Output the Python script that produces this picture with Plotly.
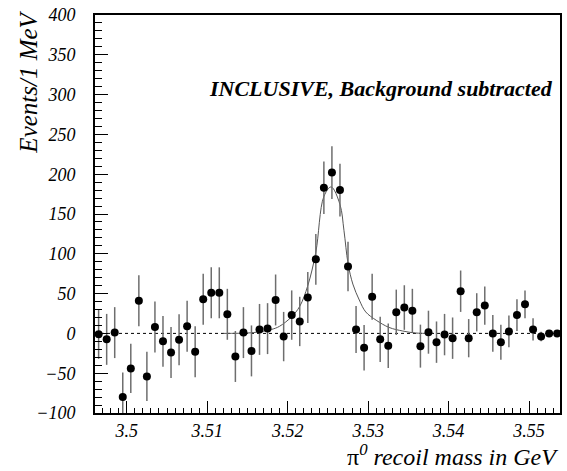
import plotly.graph_objects as go

# bin centres (GeV)
mass = [3.4965, 3.4975, 3.4985, 3.4995, 3.5005, 3.5015, 3.5025, 3.5035, 3.5045, 3.5055,
        3.5065, 3.5075, 3.5085, 3.5095, 3.5105, 3.5115, 3.5125, 3.5135, 3.5145, 3.5155,
        3.5165, 3.5175, 3.5185, 3.5195, 3.5205, 3.5215, 3.5225, 3.5235, 3.5245, 3.5255,
        3.5265, 3.5275, 3.5285, 3.5295, 3.5305, 3.5315, 3.5325, 3.5335, 3.5345, 3.5355,
        3.5365, 3.5375, 3.5385, 3.5395, 3.5405, 3.5415, 3.5425, 3.5435, 3.5445, 3.5455,
        3.5465, 3.5475, 3.5485, 3.5495, 3.5505, 3.5515, 3.5525, 3.5535]

events = [-1, -7.5, 1, -80, -44, 41, -54, 8, -10, -24,
          -8, 9, -23, 43, 51, 51, 24, -29, 1, -22,
          5, 6, 42, -4, 23, 15, 45, 93, 183, 202,
          180, 84, 5, -18, 46, -7.5, -15.5, 26.5, 32.5, 28.5,
          -16, 1.5, -11, -1.5, -6, 53, -6, 26.5, 35, 0,
          -11, 2.5, 23, 36.5, 5, -4, 0, 0]

errors = [31, 32, 32, 31, 31, 32, 31, 32, 32, 32,
          32, 32, 32, 32, 32, 32, 32, 32, 32, 32,
          32, 32, 32, 31, 31, 31, 32, 32, 33, 33,
          33, 31, 29.5, 28.5, 29, 28.5, 28, 28.5, 28, 27.5,
          27, 27, 26, 26, 26, 26, 24, 24, 24, 23,
          22, 20, 20, 17.5, 14, 6, 0, 0]

# fitted curve
fit_x = [3.5120, 3.5150, 3.5165, 3.5180, 3.5190, 3.5205, 3.5215, 3.5225, 3.5235, 3.5245,
         3.5254, 3.5265, 3.5270, 3.5275, 3.5281, 3.5289, 3.5297, 3.5310, 3.5326, 3.5343,
         3.5359, 3.5380]
fit_y = [0, 0.5, 2, 5, 9, 21, 34, 60, 102, 172,
         184, 162, 129, 88, 62, 42, 27, 16.6, 7.5, 3,
         0.5, 0]

x_ticks = [3.50, 3.51, 3.52, 3.53, 3.54, 3.55]
x_labels = ["3.5", "3.51", "3.52", "3.53", "3.54", "3.55"]
y_ticks = [-100, -50, 0, 50, 100, 150, 200, 250, 300, 350, 400]

SERIF = "Liberation Serif, Times New Roman, serif"

fig = go.Figure()
fig.add_trace(go.Scatter(
    x=fit_x, y=fit_y, mode="lines", line=dict(color="#555555", width=1, shape="spline"),
    hoverinfo="skip", showlegend=False))
fig.add_trace(go.Scatter(
    x=mass, y=events, mode="markers",
    marker=dict(color="black", size=8),
    error_y=dict(type="data", array=errors, visible=True, color="#6e6e6e", thickness=1.5, width=0),
    showlegend=False))

fig.add_shape(type="line", xref="paper", yref="y", x0=0, x1=1, y0=0, y1=0,
              line=dict(color="black", width=1, dash="dot"), layer="below")

tickfont = dict(family=SERIF, size=18, color="black", style="italic")
fig.update_xaxes(range=[3.49605, 3.55385], tickvals=x_ticks, ticktext=x_labels,
                 ticks="inside", ticklen=12, tickwidth=1, tickcolor="black",
                 minor=dict(dtick=0.001, tick0=3.5, ticks="inside", ticklen=5, tickwidth=1, tickcolor="black"),
                 showline=True, linecolor="black", linewidth=2, mirror=True,
                 showgrid=False, zeroline=False, tickfont=tickfont, ticklabelstandoff=0)
fig.update_yaxes(range=[-100, 400], tickvals=y_ticks,
                 ticks="inside", ticklen=13, tickwidth=1, tickcolor="black",
                 minor=dict(dtick=10, tick0=0, ticks="inside", ticklen=7, tickwidth=1, tickcolor="black"),
                 showline=True, linecolor="black", linewidth=2, mirror=True,
                 showgrid=False, zeroline=False, tickfont=tickfont, ticklabelstandoff=14)

fig.add_annotation(text="<b><i>INCLUSIVE, Background subtracted</i></b>", xref="paper", yref="paper",
                   x=0.99, y=0.815, xanchor="right", yanchor="middle", showarrow=False,
                   font=dict(family=SERIF, size=22, color="black"))
fig.add_annotation(text="<i>Events/1 MeV</i>", xref="paper", yref="paper",
                   x=-0.143, y=1.016, xanchor="center", yanchor="top", textangle=-90, showarrow=False,
                   font=dict(family=SERIF, size=25, color="black"))
fig.add_annotation(text="π<sup><i>0</i></sup><i> recoil mass in GeV</i>", xref="paper", yref="paper",
                   x=1.0, y=-0.105, xanchor="right", yanchor="middle", showarrow=False,
                   font=dict(family=SERIF, size=24, color="black"))

fig.update_layout(width=567, height=471, margin=dict(l=95, r=5, t=11, b=58),
                  plot_bgcolor="white", paper_bgcolor="white")
fig.write_html("out.html")
